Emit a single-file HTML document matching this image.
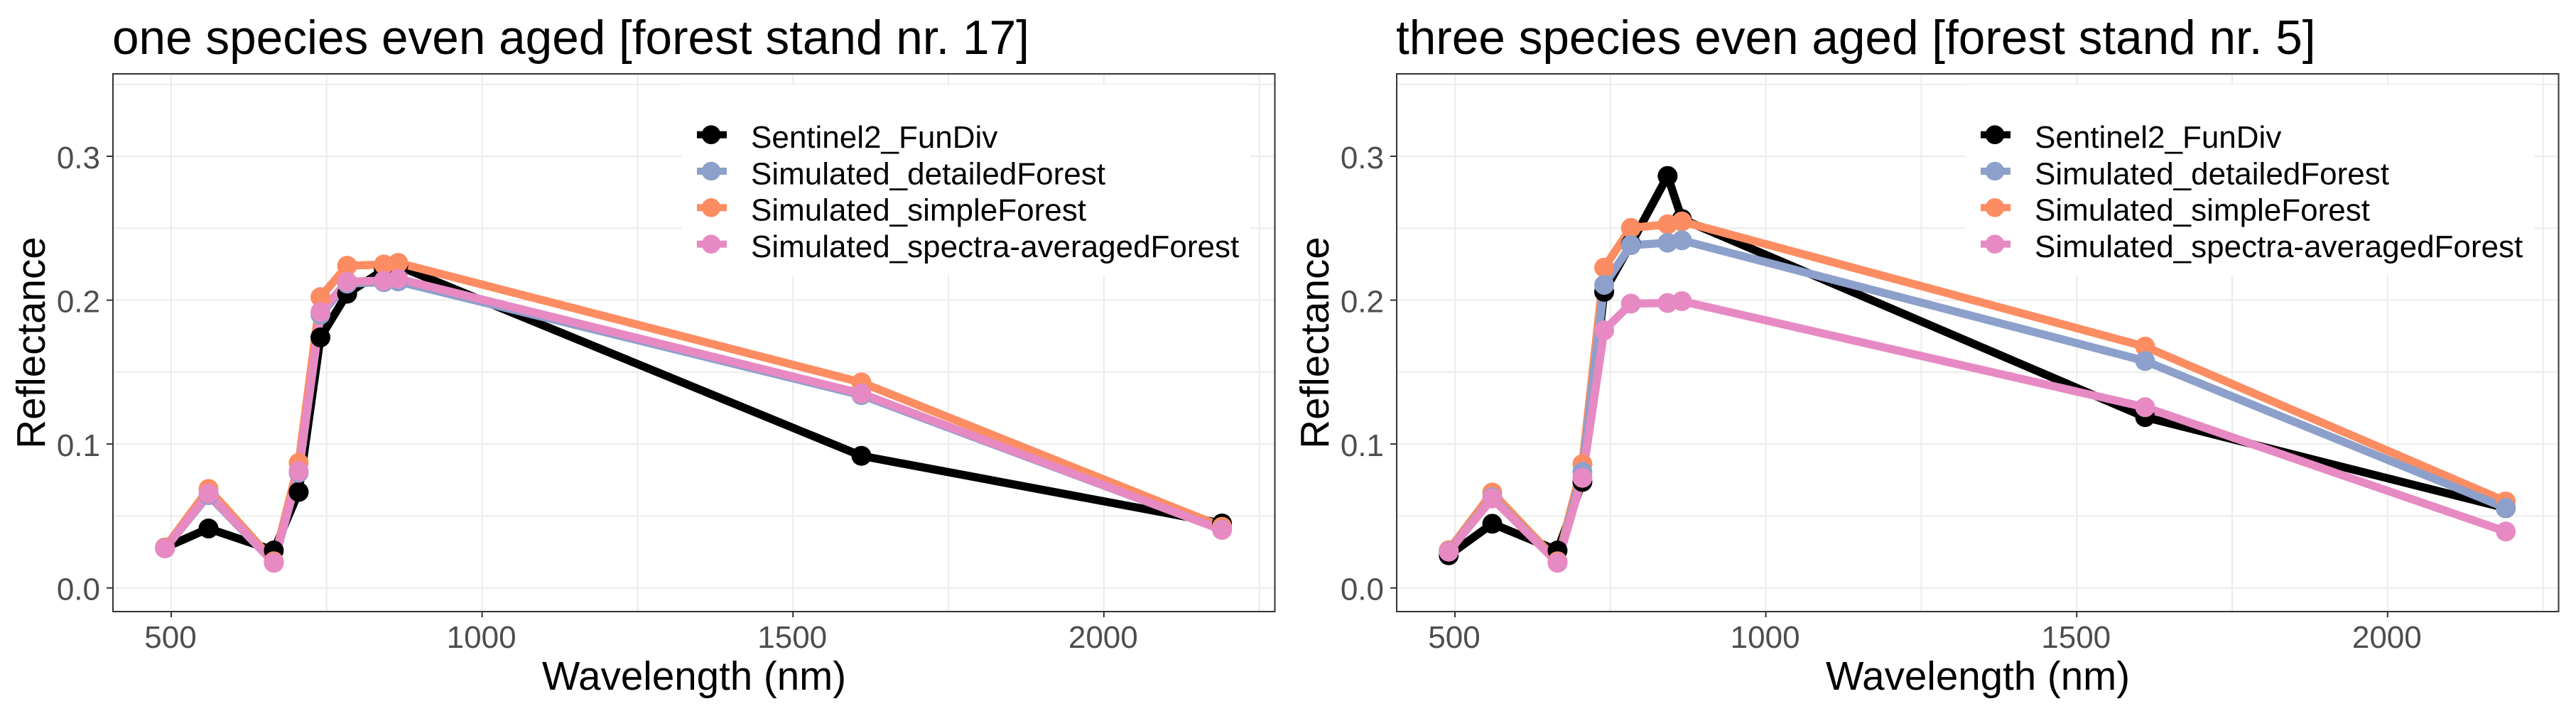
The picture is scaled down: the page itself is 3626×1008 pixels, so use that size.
<!DOCTYPE html>
<html lang="en">
<head>
<meta charset="utf-8">
<title>Simulated and Sentinel-2 reflectance spectra</title>
<style>
html,body{margin:0;padding:0;background:#fff;}
svg{display:block;}
text{font-family:"Liberation Sans",Arial,sans-serif;}
.plot-title{font-size:67.5px;fill:#000;}
.axis-title{font-size:56.5px;fill:#000;}
.tick-label{font-size:44px;fill:#4d4d4d;}
.legend-label{font-size:44px;fill:#000;}
</style>
</head>
<body>
<svg xmlns="http://www.w3.org/2000/svg" width="3626" height="1008" viewBox="0 0 3626 1008">
  <rect x="0" y="0" width="3626" height="1008" fill="#ffffff"/>

  <g id="panel-1">
    <text class="plot-title" x="158" y="76">one species even aged [forest stand nr. 17]</text>
    <g class="plot-layer"></g>
    <text class="axis-title" x="977" y="971" text-anchor="middle">Wavelength (nm)</text>
    <text class="axis-title" transform="translate(63,482.5) rotate(-90)" text-anchor="middle">Reflectance</text>
    <g>
      <rect x="959" y="119" width="801" height="269" fill="#ffffff"/>
      <g>
        <rect x="981" y="184.7" width="42" height="10" fill="#000000"/>
        <circle cx="1001" cy="189.7" r="13.3" fill="#000000"/>
        <text class="legend-label" x="1057" y="208">Sentinel2_FunDiv</text>
      </g>
      <g>
        <rect x="981" y="236" width="42" height="10" fill="#8DA0CB"/>
        <circle cx="1001" cy="241" r="13.3" fill="#8DA0CB"/>
        <text class="legend-label" x="1057" y="259.3">Simulated_detailedForest</text>
      </g>
      <g>
        <rect x="981" y="287.3" width="42" height="10" fill="#FC8D62"/>
        <circle cx="1001" cy="292.3" r="13.3" fill="#FC8D62"/>
        <text class="legend-label" x="1057" y="310.6">Simulated_simpleForest</text>
      </g>
      <g>
        <rect x="981" y="338.7" width="42" height="10" fill="#E78AC3"/>
        <circle cx="1001" cy="343.7" r="13.3" fill="#E78AC3"/>
        <text class="legend-label" x="1057" y="362">Simulated_spectra-averagedForest</text>
      </g>
    </g>
    <rect class="panel-border" x="159" y="104" width="1635.5" height="757" fill="none" stroke="#333333" stroke-width="2"/>
  </g>

  <g id="panel-2" transform="translate(1807,0)">
    <text class="plot-title" x="158" y="76">three species even aged [forest stand nr. 5]</text>
    <g class="plot-layer"></g>
    <text class="axis-title" x="977" y="971" text-anchor="middle">Wavelength (nm)</text>
    <text class="axis-title" transform="translate(63,482.5) rotate(-90)" text-anchor="middle">Reflectance</text>
    <g>
      <rect x="959" y="119" width="801" height="269" fill="#ffffff"/>
      <g>
        <rect x="981" y="184.7" width="42" height="10" fill="#000000"/>
        <circle cx="1001" cy="189.7" r="13.3" fill="#000000"/>
        <text class="legend-label" x="1057" y="208">Sentinel2_FunDiv</text>
      </g>
      <g>
        <rect x="981" y="236" width="42" height="10" fill="#8DA0CB"/>
        <circle cx="1001" cy="241" r="13.3" fill="#8DA0CB"/>
        <text class="legend-label" x="1057" y="259.3">Simulated_detailedForest</text>
      </g>
      <g>
        <rect x="981" y="287.3" width="42" height="10" fill="#FC8D62"/>
        <circle cx="1001" cy="292.3" r="13.3" fill="#FC8D62"/>
        <text class="legend-label" x="1057" y="310.6">Simulated_simpleForest</text>
      </g>
      <g>
        <rect x="981" y="338.7" width="42" height="10" fill="#E78AC3"/>
        <circle cx="1001" cy="343.7" r="13.3" fill="#E78AC3"/>
        <text class="legend-label" x="1057" y="362">Simulated_spectra-averagedForest</text>
      </g>
    </g>
    <rect class="panel-border" x="159" y="104" width="1635.5" height="757" fill="none" stroke="#333333" stroke-width="2"/>
  </g>
</svg>

<script>
var wavelengths = [490, 560, 665, 705, 740, 783, 842, 865, 1610, 2190];

var xMajorTicks = [500, 1000, 1500, 2000];
var xMinorTicks = [750, 1250, 1750, 2250];
var yMajorTicks = [0, 0.1, 0.2, 0.3];
var yMinorTicks = [0.05, 0.15, 0.25, 0.35];
var xTickLabels = ['500', '1000', '1500', '2000'];
var yTickLabels = ['0.0', '0.1', '0.2', '0.3'];

var stand17Sentinel = [0.0280, 0.0413, 0.0260, 0.0667, 0.1741, 0.2045, 0.2210, 0.2238, 0.0918, 0.0448];
var stand17Detailed = [0.0275, 0.0645, 0.0175, 0.0800, 0.1900, 0.2115, 0.2125, 0.2130, 0.1340, 0.0405];
var stand17Simple   = [0.0280, 0.0688, 0.0185, 0.0869, 0.2021, 0.2239, 0.2248, 0.2259, 0.1428, 0.0425];
var stand17Averaged = [0.0275, 0.0655, 0.0175, 0.0811, 0.1918, 0.2128, 0.2136, 0.2149, 0.1351, 0.0403];

var stand5Sentinel = [0.0227, 0.0446, 0.0260, 0.0737, 0.2058, 0.2390, 0.2863, 0.2564, 0.1187, 0.0555];
var stand5Detailed = [0.0255, 0.0630, 0.0175, 0.0806, 0.2106, 0.2382, 0.2399, 0.2416, 0.1577, 0.0556];
var stand5Simple   = [0.0262, 0.0663, 0.0185, 0.0861, 0.2226, 0.2502, 0.2527, 0.2547, 0.1677, 0.0601];
var stand5Averaged = [0.0252, 0.0622, 0.0175, 0.0765, 0.1790, 0.1976, 0.1980, 0.1993, 0.1256, 0.0392];

var seriesNames = ['sentinel', 'simple', 'detailed', 'spectra-averaged'];
var seriesColors = ['#000000', '#FC8D62', '#8DA0CB', '#E78AC3'];
var panel1Series = [stand17Sentinel, stand17Simple, stand17Detailed, stand17Averaged];
var panel2Series = [stand5Sentinel, stand5Simple, stand5Detailed, stand5Averaged];

var SVG_NS = 'http://www.w3.org/2000/svg';
var PANEL_LEFT = 159, PANEL_RIGHT = 1794.5, PANEL_TOP = 104, PANEL_BOTTOM = 861;
var X_DOMAIN_MIN = 406.3, X_DOMAIN_MAX = 2275;
var Y_DOMAIN_MIN = -0.01644, Y_DOMAIN_MAX = 0.35726;

function xScale(w) {
  return PANEL_LEFT + (w - X_DOMAIN_MIN) / (X_DOMAIN_MAX - X_DOMAIN_MIN) * (PANEL_RIGHT - PANEL_LEFT);
}
function yScale(v) {
  return PANEL_BOTTOM - (v - Y_DOMAIN_MIN) / (Y_DOMAIN_MAX - Y_DOMAIN_MIN) * (PANEL_BOTTOM - PANEL_TOP);
}
function make(tag, parent, attrs) {
  var el = document.createElementNS(SVG_NS, tag);
  for (var k in attrs) { el.setAttribute(k, attrs[k]); }
  parent.appendChild(el);
  return el;
}

function drawGridV(layer, value) {
  var line = make('line', layer, {x1: xScale(value), x2: xScale(value), y1: PANEL_TOP, y2: PANEL_BOTTOM, stroke: '#ebebeb', 'stroke-width': 2});
  
  
}
function drawGridH(layer, value) {
  var line = make('line', layer, {x1: PANEL_LEFT, x2: PANEL_RIGHT, y1: yScale(value), y2: yScale(value), stroke: '#ebebeb', 'stroke-width': 2});
  
  
}

function drawPanel(panelId, seriesList) {
  var layer = document.querySelector('#' + panelId + ' .plot-layer');
  var i, j;

  for (i = 0; i < xMinorTicks.length; i++) { drawGridV(layer, xMinorTicks[i]); }
  for (i = 0; i < xMajorTicks.length; i++) { drawGridV(layer, xMajorTicks[i]); }
  for (i = 0; i < yMinorTicks.length; i++) { drawGridH(layer, yMinorTicks[i]); }
  for (i = 0; i < yMajorTicks.length; i++) { drawGridH(layer, yMajorTicks[i]); }

  for (i = 0; i < xMajorTicks.length; i++) {
    var xt = make('line', layer, {x1: xScale(xMajorTicks[i]), x2: xScale(xMajorTicks[i]), y1: PANEL_BOTTOM, y2: PANEL_BOTTOM + 8, stroke: '#333333', 'stroke-width': 2});
    
    
    var xl = make('text', layer, {x: xScale(xMajorTicks[i]) - 1, y: 912, 'text-anchor': 'middle', 'class': 'tick-label'});
    
    
    xl.textContent = xTickLabels[i];
  }
  for (i = 0; i < yMajorTicks.length; i++) {
    var yt = make('line', layer, {x1: PANEL_LEFT - 9, x2: PANEL_LEFT, y1: yScale(yMajorTicks[i]), y2: yScale(yMajorTicks[i]), stroke: '#333333', 'stroke-width': 2});
    
    
    var yl = make('text', layer, {x: 141, y: yScale(yMajorTicks[i]) + 17, 'text-anchor': 'end', 'class': 'tick-label'});
    
    
    yl.textContent = yTickLabels[i];
  }

  for (i = 0; i < seriesList.length; i++) {
    var pts = [];
    for (j = 0; j < wavelengths.length; j++) {
      pts.push(xScale(wavelengths[j]).toFixed(2) + ',' + yScale(seriesList[i][j]).toFixed(2));
    }
    var poly = make('polyline', layer, {points: pts.join(' '), fill: 'none', stroke: seriesColors[i], 'stroke-width': 11.5, 'stroke-linejoin': 'round', 'stroke-linecap': 'butt'});
    
    
  }
  for (i = 0; i < seriesList.length; i++) {
    for (j = 0; j < wavelengths.length; j++) {
      var dot = make('circle', layer, {cx: xScale(wavelengths[j]), cy: yScale(seriesList[i][j]), r: 14, fill: seriesColors[i]});
      
      
    }
  }
}

drawPanel('panel-1', panel1Series);
drawPanel('panel-2', panel2Series);
</script>
</body>
</html>
